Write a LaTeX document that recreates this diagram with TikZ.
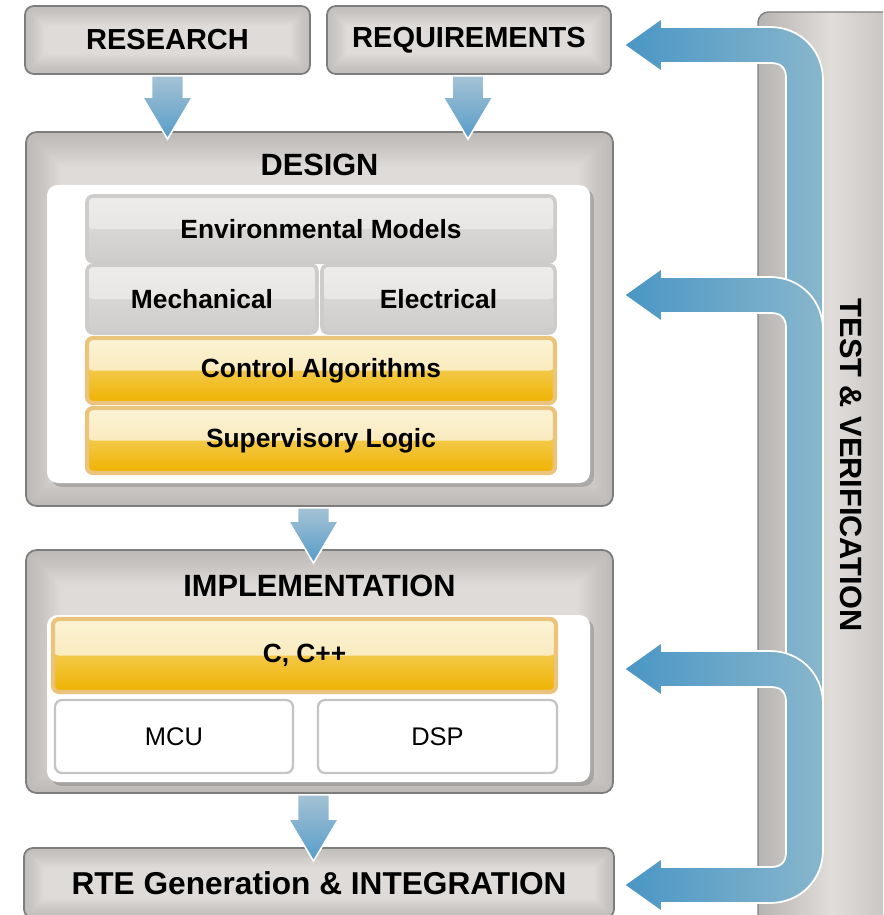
\documentclass[tikz,border=0pt]{standalone}
\usepackage{fontspec}
\setmainfont{Liberation Sans}
\usetikzlibrary{calc,fit,shadows}

%% colours
\definecolor{boxmid}{RGB}{222,219,217}
\definecolor{boxedge}{RGB}{150,147,145}
\definecolor{boxline}{RGB}{125,125,125}
\definecolor{tiletop}{RGB}{226,224,222}
\definecolor{tilebot}{RGB}{207,205,203}
\definecolor{tileline}{RGB}{206,204,202}
\definecolor{goldtop}{RGB}{244,222,140}
\definecolor{goldlow}{RGB}{240,178,0}
\definecolor{goldline}{RGB}{234,196,125}
\definecolor{cellline}{RGB}{196,196,196}
\definecolor{flowtop}{RGB}{165,194,212}
\definecolor{flowbot}{RGB}{86,156,201}
\definecolor{backleft}{RGB}{74,150,197}
\definecolor{backright}{RGB}{136,182,204}
\definecolor{testdark}{RGB}{182,179,177}
\definecolor{testlight}{RGB}{224,221,219}
\definecolor{testright}{RGB}{192,189,187}

\newcommand{\tilefont}{\fontsize{15}{18}\selectfont\bfseries}

%% down arrow between two boxes: from, to, overlap, x offset
\newcommand{\downflow}[4]{%
  \draw[flowdown] ($(#1.south)+(#4-16,1)$) -- ($(#1.south |- #2.north)+(#4-16,#3-42)$)
    -- ++(-9,0) -- ($(#1.south |- #2.north)+(#4,#3)$) -- ++(25,-42) -- ++(-9,0)
    -- ($(#1.south)+(#4+16,1)$) -- cycle;}

%% feedback arrow: tip, riser length
\newcommand{\backflow}[2]{%
  \draw[flowback] (#1) -- ++(38,-27) -- ++(0,9) -- ++(108,0)
    .. controls +(30,0) and +(0,-30) .. ++(53,53) -- ++(0,#2) -- ++(-37,0)
    -- ++(0,{-#2-2}) .. controls +(0,-10) and +(10,0) .. ++(-15,-15)
    -- ++(-109,0) -- ++(0,9) -- cycle;}

\tikzset{
  %% darker rim inside a box
  rim/.style={path picture={
    \foreach \w in {#1} \draw[boxedge, opacity=.04, line width=\w pt, rounded corners=5pt]
      (path picture bounding box.south west) rectangle (path picture bounding box.north east);}},
  %% glossy upper half of a tile
  gloss/.style={path picture={
    \fill[white, opacity=#1] (path picture bounding box.north west) rectangle (path picture bounding box.east);}},
  greybox/.style={draw=boxline, line width=1pt, rounded corners=5pt, fill=boxmid, inner sep=0pt,
    rim={2,4,...,22}},
  bigbox/.style={draw=boxline, line width=1pt, rounded corners=6pt, fill=boxmid, inner sep=0pt,
    rim={3,6,...,39}},
  panel/.style={fill=white, rounded corners=6pt, inner sep=0pt,
    drop shadow={shadow xshift=2.2pt, shadow yshift=-2.2pt, opacity=.45}},
  greytile/.style={draw=tileline, line width=2pt, rounded corners=3.5pt, inner sep=0pt,
    top color=tiletop, bottom color=tilebot, gloss=.4},
  goldtile/.style={draw=goldline, line width=2.4pt, rounded corners=3.5pt, inner sep=0pt,
    top color=goldtop, bottom color=goldlow, gloss=.65},
  cputile/.style={draw=cellline, fill=white, line width=1.3pt, rounded corners=4pt, inner sep=0pt},
  flowdown/.style={draw=white, line width=0.9pt, top color=flowtop, bottom color=flowbot},
  flowback/.style={draw=white, line width=1pt, left color=backleft, right color=backright},
  headtext/.style={font=\fontsize{17.5}{20}\selectfont\bfseries},
  boxtext/.style={font=\fontsize{16.5}{20}\selectfont\bfseries},
  tiletext/.style={font=\tilefont},
  cputext/.style={font=\fontsize{14.5}{17}\selectfont}
}

\begin{document}
\begin{tikzpicture}[x=0.02cm, y=-0.02cm]

\useasboundingbox (0,0) rectangle (883,915);
\clip (0,0) rectangle (883,915);

%% Test bar
\node[draw=boxline, line width=0.8pt, rounded corners=6pt, inner sep=0pt,
  left color=testdark, right color=testright, middle color=testlight,
  fit={(758,12) (905,935)}] (test) {};
\node[headtext, rotate=-90] (testtitle) at (851,465) {TEST \& VERIFICATION};

%% Feedback arrows
\coordinate (tv1) at (624,45);
\coordinate (tv2) at (624,295);
\coordinate (tv3) at (624,669);
\coordinate (tv4) at (624,885);

\backflow{tv1}{246}
\backflow{tv2}{370}
\draw[flowback] (tv3) -- ++(38,-27) -- ++(0,9) -- ++(108,0)
  .. controls +(30,0) and +(0,-30) .. ++(53,53) -- ++(0,146)
  .. controls +(0,30) and +(30,0) .. ++(-53,53) -- ++(-108,0) -- ++(0,9)
  -- (tv4) -- ++(38,-27) -- ++(0,9) -- ++(109,0)
  .. controls +(10,0) and +(0,10) .. ++(15,-15) -- ++(0,-150)
  .. controls +(0,-10) and +(10,0) .. ++(-15,-15) -- ++(-109,0) -- ++(0,9) -- cycle;

%% Top boxes
\node[greybox, fit={(25,6) (310,74)}, label={[boxtext]center:RESEARCH}] (research) {};
\node[greybox, fit={(327,6) (611,74)}, label={[boxtext]center:REQUIREMENTS}] (requirements) {};

%% Design
\node[bigbox, fit={(26,132) (613,506)}] (design) {};
\node[headtext] (designtitle) at ($(design.north)+(0,34)$) {DESIGN};
\node[panel, fit={(47,185) (590,483)}] (designpanel) {};
\node[greytile, fit={(87,196) (555,262)}, label={[tiletext]center:Environmental Models}] (envmodels) {};
\node[greytile, fit={(87,265) (317,333)}, label={[tiletext]center:Mechanical}] (mech) {};
\node[greytile, fit={(322,265) (555,333)}, label={[tiletext]center:Electrical}] (elec) {};
\node[goldtile, fit={(87,338) (555,403)}, label={[tiletext]center:Control Algorithms}] (ctrl) {};
\node[goldtile, fit={(87,408) (555,473)}, label={[tiletext]center:Supervisory Logic}] (superv) {};

%% Implementation
\node[bigbox, fit={(26,550) (613,793)}] (impl) {};
\node[headtext] (impltitle) at ($(impl.north)+(0,37)$) {IMPLEMENTATION};
\node[panel, fit={(47,615) (590,782)}] (implpanel) {};
\node[goldtile, fit={(53,619) (556,692)}, label={[tiletext]center:{C, C++}}] (ccpp) {};
\node[cputile, fit={(55,700) (293,773)}, label={[cputext]center:MCU}] (mcu) {};
\node[cputile, fit={(318,700) (557,773)}, label={[cputext]center:DSP}] (dsp) {};

%% Integration
\node[greybox, fit={(24,848) (614,918)},
  label={[font=\fontsize{18}{20}\selectfont\bfseries]center:RTE Generation \& INTEGRATION}] (rte) {};

%% Flow
\downflow{research}{design}{8}{0}
\downflow{requirements}{design}{8}{-1}
\downflow{design}{impl}{14}{-6}
\downflow{impl}{rte}{14}{-6}

\end{tikzpicture}
\end{document}
